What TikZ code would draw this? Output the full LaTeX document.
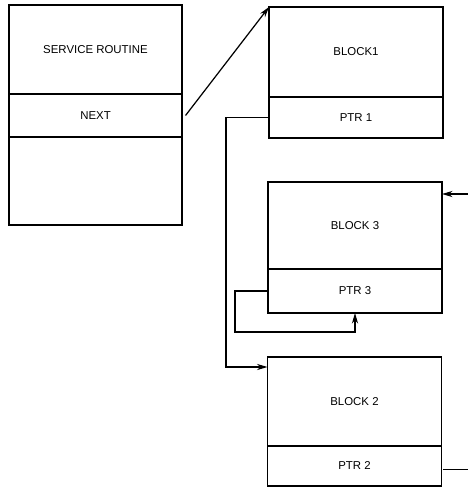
\documentclass[tikz,border=0pt]{standalone}
\usepackage{fontspec}
\setmainfont{Liberation Sans}
\usetikzlibrary{arrows.meta,positioning}

\begin{document}
\begin{tikzpicture}[
  rec/.style={rectangle, draw=black, line width=0.8pt,
    minimum width=3.48cm, inner sep=0pt, outer sep=0pt,
    font=\fontsize{6.5}{8}\selectfont, align=center},
  link/.style={line width=0.7pt, -{Stealth[length=6pt,width=3.5pt]}},
  plain/.style={line width=0.7pt}
]
\useasboundingbox (0,0) rectangle (9.36,-9.8);
\node[rec, minimum width=3.46cm, minimum height=1.78cm] (srv) at (1.91,-0.99) {SERVICE ROUTINE};
\node[rec, minimum width=3.46cm, minimum height=0.86cm, below=0pt of srv] (next) {NEXT};
\node[rec, minimum width=3.46cm, minimum height=1.76cm, below=0pt of next] (srvrest) {};
\node[rec, minimum height=1.8cm] (blk1) at (7.12,-1.04) {BLOCK1};
\node[rec, minimum height=0.82cm, below=0pt of blk1] (ptr1) {PTR 1};
\node[rec, minimum height=1.74cm] (blk3) at (7.10,-4.51) {BLOCK 3};
\node[rec, minimum height=0.88cm, below=0pt of blk3] (ptr3) {PTR 3};
\node[rec, minimum height=1.78cm] (blk2) at (7.09,-8.03) {BLOCK 2};
\node[rec, minimum height=0.8cm, below=0pt of blk2] (ptr2) {PTR 2};
\coordinate (in3) at (9.36,-3.88);
\coordinate (edge) at (9.36,0);
\draw[link] ([xshift=2pt]next.east) -- (blk1.north west);
\draw[link] (ptr1.west) -- ++(-0.86,0) |- ([yshift=-0.2cm]blk2.north west);
\draw[link] (ptr3.west) -- ++(-0.66,0) -- ++(0,-0.82) -| (ptr3.south);
\draw[link] (in3) -- (in3 -| blk3.east);
\draw[plain] ([xshift=1pt,yshift=-2pt]ptr2.east) -- ([yshift=-2pt]ptr2.east -| edge);
\end{tikzpicture}
\end{document}
